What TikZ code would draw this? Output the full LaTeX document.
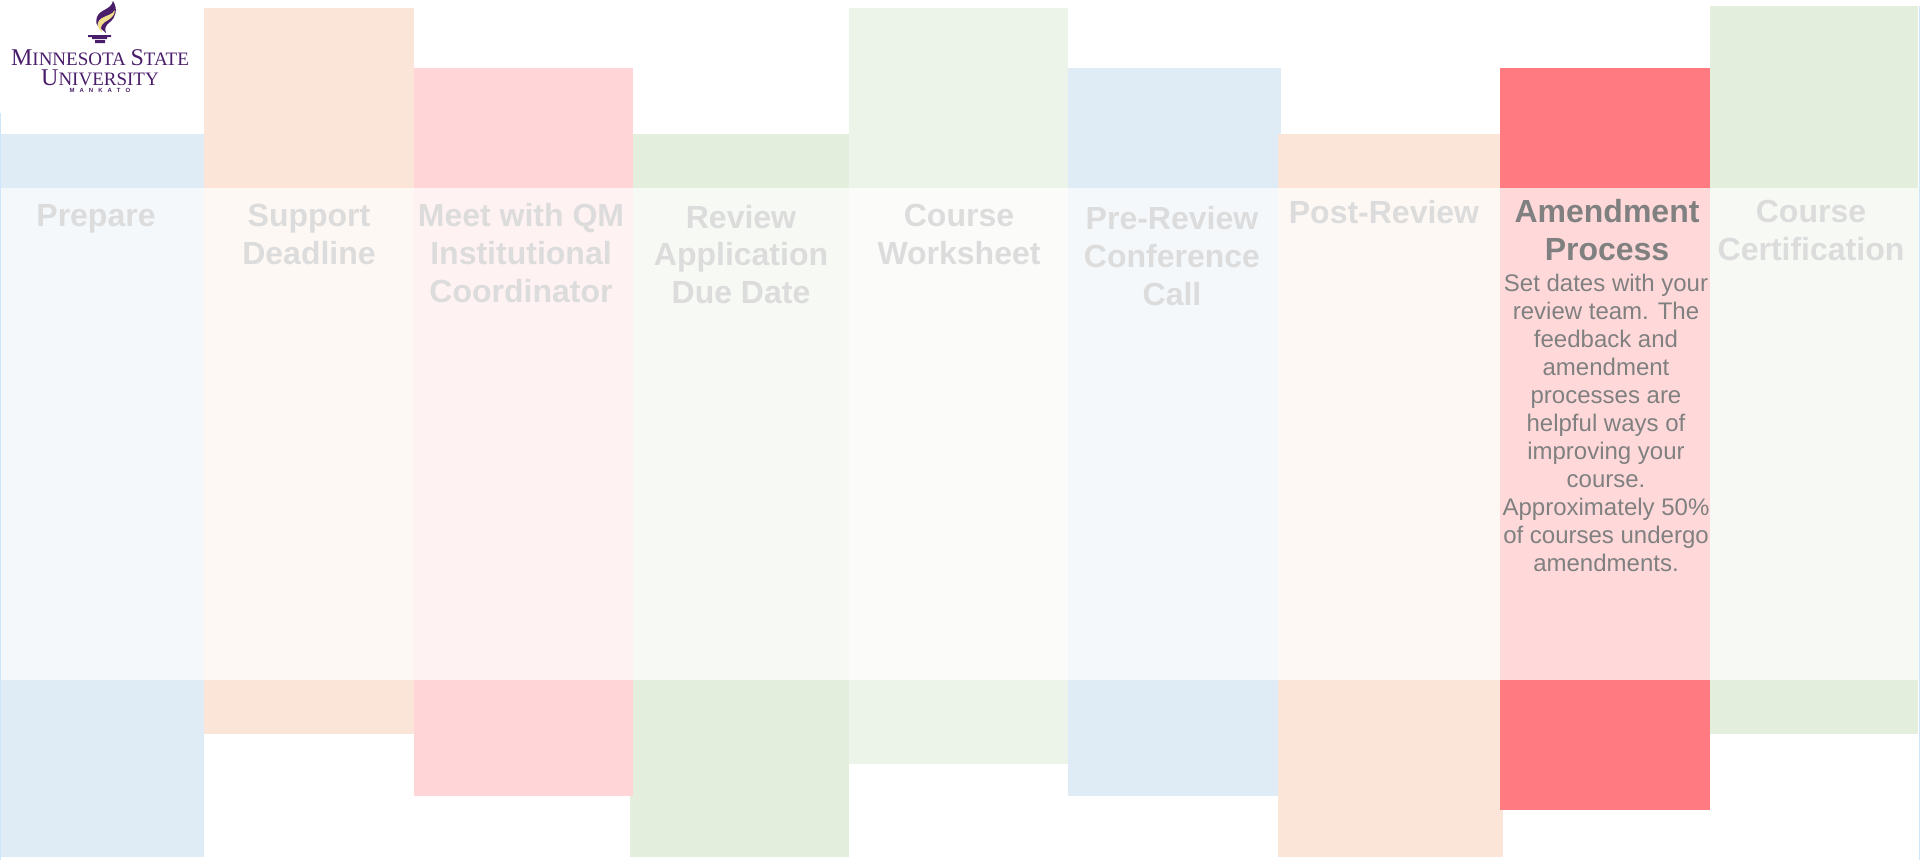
\documentclass[tikz,border=0pt]{standalone}
\usepackage{fontspec}
\setmainfont{Liberation Sans}
\newfontfamily\logofont{Liberation Serif}

\definecolor{bluebar}{HTML}{DFEBF5}
\definecolor{orangebar}{HTML}{FBE5D8}
\definecolor{pinkbar}{HTML}{FFD5D7}
\definecolor{greenbar}{HTML}{E3EFDC}
\definecolor{palebar}{HTML}{ECF4E9}
\definecolor{redbar}{HTML}{FF7B81}
\definecolor{blueband}{HTML}{F5F8FB}
\definecolor{orangeband}{HTML}{FDF8F4}
\definecolor{pinkband}{HTML}{FFF2F3}
\definecolor{greenband}{HTML}{F7F9F5}
\definecolor{paleband}{HTML}{FBFCFA}
\definecolor{redband}{HTML}{FFD9DA}
\definecolor{edgeline}{HTML}{CDE6FB}
\definecolor{fadedtext}{HTML}{DCDCDC}
\definecolor{activetext}{HTML}{808080}
\definecolor{logopurple}{HTML}{4A1D6A}
\definecolor{logogold}{HTML}{F0DE8C}

\tikzset{
    heading/.style={anchor=base, align=center, inner sep=0pt, text=fadedtext,
        font=\fontsize{32}{37.7}\selectfont\bfseries},
    active/.style={heading, text=activetext},
    bodytext/.style={anchor=base, align=center, inner sep=0pt, text=activetext,
        font=\fontsize{24}{28}\selectfont},
    logotext/.style={anchor=base, inner sep=0pt, text=logopurple}
}

\begin{document}
\begin{tikzpicture}[x=1pt,y=-1pt]
    \useasboundingbox (0,0) rectangle (1920,860);
    % top bars
    \fill [bluebar] (0,134) rectangle (204,188);
    \fill [orangebar] (204,8) rectangle (414,188);
    \fill [pinkbar] (414,68) rectangle (633,188);
    \fill [greenbar] (633,134) rectangle (849,188);
    \fill [palebar] (849,8) rectangle (1068,188);
    \fill [bluebar] (1068,68) rectangle (1281,188);
    \fill [orangebar] (1278,134) rectangle (1500,188);
    \fill [redbar] (1500,68) rectangle (1710,188);
    \fill [greenbar] (1710,6) rectangle (1918,188);
    % bottom bars
    \fill [bluebar] (0,680) rectangle (204,857);
    \fill [orangebar] (204,680) rectangle (414,734);
    \fill [greenbar] (630,680) rectangle (849,857);
    \fill [pinkbar] (414,680) rectangle (633,796);
    \fill [palebar] (849,680) rectangle (1068,764);
    \fill [bluebar] (1068,680) rectangle (1278,796);
    \fill [orangebar] (1278,680) rectangle (1503,857);
    \fill [redbar] (1500,680) rectangle (1710,810);
    \fill [greenbar] (1710,680) rectangle (1918,734);
    % middle band
    \fill [blueband] (0,188) rectangle (204,680);
    \fill [orangeband] (204,188) rectangle (414,680);
    \fill [pinkband] (414,188) rectangle (633,680);
    \fill [greenband] (633,188) rectangle (849,680);
    \fill [paleband] (849,188) rectangle (1068,680);
    \fill [blueband] (1068,188) rectangle (1278,680);
    \fill [orangeband] (1278,188) rectangle (1500,680);
    \fill [redband] (1500,188) rectangle (1710,680);
    \fill [greenband] (1710,188) rectangle (1920,680);
    \fill [edgeline] (0,113) rectangle (1,860);
    \fill [edgeline] (1918.5,6) rectangle (1920,860);

    \node [heading] (prepare) at (96,226) {Prepare};
    \node [heading] (support) at (309,264) {Support\\Deadline};
    \node [heading] (meet) at (521,302) {Meet with QM\\Institutional\\Coordinator};
    \node [heading] (application) at (741,303.5) {Review\\Application\\Due Date};
    \node [heading] (worksheet) at (959,264) {Course\\Worksheet};
    \node [heading] (conference) at (1172,305) {Pre-Review\\Conference\\Call};
    \node [heading] (postreview) at (1384,223) {Post-Review};
    \node [active] (amendment) at (1607,260.5) {Amendment\\Process};
    \node [heading] (certification) at (1811,260.5) {Course\\Certification};
    \node [bodytext] (details) at (1606,571.7) {Set dates with your\\review team. The\\feedback and\\amendment\\processes are\\helpful ways of\\improving your\\course.\\Approximately 50\%\\of courses undergo\\amendments.};

    % logo
    \fill [logopurple] (106,33) .. controls (100,27) and (94,27) .. (97,17) .. controls (100,9) and (111,10) .. (113,1) .. controls (118,9) and (116,17) .. (110,22) .. controls (106,25) and (104,28) .. cycle;
    \fill [logogold] (102,32) .. controls (96,27) and (96,22) .. (102,18) .. controls (107,15) and (112,15) .. (115,10) .. controls (115,16) and (110,19) .. (105,22) .. controls (101,25) and (100,28) .. cycle;
    \fill [logopurple] (88,35) rectangle (111,37) (92,37) rectangle (107,39) (95,40) rectangle (105,43);
    \node [logotext] (logostate) at (100,65) {\logofont\fontsize{24}{24}\selectfont M\fontsize{19}{24}\selectfont INNESOTA \fontsize{24}{24}\selectfont S\fontsize{19}{24}\selectfont TATE};
    \node [logotext] (logouni) at (100,85) {\logofont\fontsize{24}{24}\selectfont U\fontsize{19}{24}\selectfont NIVERSITY};
    \node [logotext] (logocity) at (100,92) {\fontsize{6}{6}\selectfont\bfseries M\hspace{5pt}A\hspace{5pt}N\hspace{5pt}K\hspace{5pt}A\hspace{5pt}T\hspace{5pt}O};
\end{tikzpicture}
\end{document}
